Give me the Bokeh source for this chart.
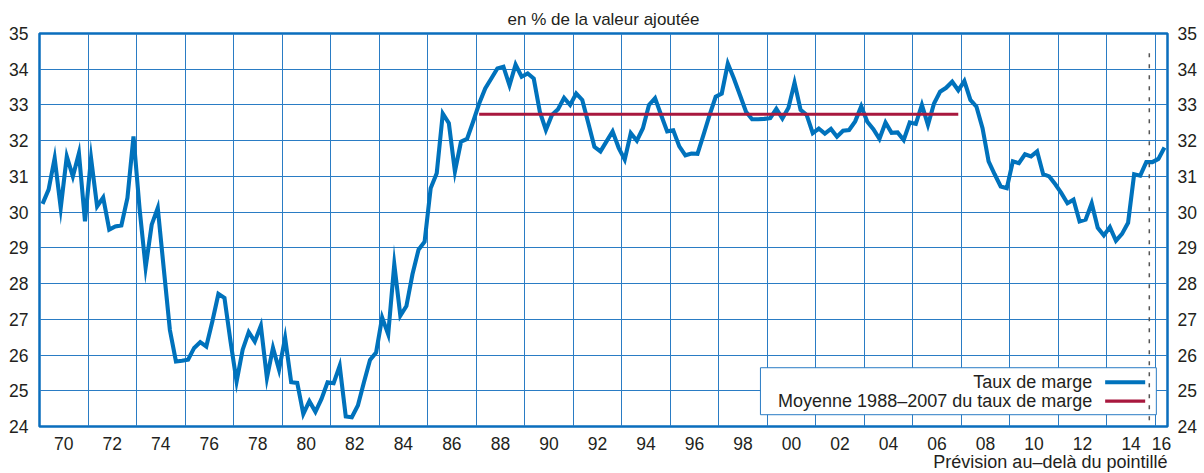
from bokeh.plotting import figure
from bokeh.models import FixedTicker, LinearAxis, Range1d, Label, BoxAnnotation, Title
from bokeh.embed import file_html
from bokeh.resources import INLINE

# ---------------- data ----------------
first_year = 1970            # series starts in 1970Q1 (quarterly)
taux_de_marge = [
    30.23, 30.63, 31.51, 30.12,   # 1970
    31.56, 31.00, 31.65, 29.74,   # 1971
    31.51, 30.16, 30.41, 29.51,   # 1972
    29.60, 29.63, 30.40, 32.12,   # 1973
    30.10, 28.45, 29.65, 30.12,   # 1974
    28.40, 26.70, 25.82, 25.84,   # 1975
    25.87, 26.20, 26.36, 26.24,   # 1976
    26.94, 27.71, 27.60, 26.38,   # 1977
    25.26, 26.15, 26.64, 26.38,   # 1978
    26.82, 25.36, 26.20, 25.59,   # 1979
    26.48, 25.24, 25.22, 24.35,   # 1980
    24.71, 24.41, 24.77, 25.24,   # 1981
    25.21, 25.70, 24.28, 24.26,   # 1982
    24.59, 25.24, 25.86, 26.07,   # 1983
    27.05, 26.58, 28.54, 27.10,   # 1984
    27.37, 28.26, 28.95, 29.17,   # 1985
    30.67, 31.09, 32.76, 32.49,   # 1986
    31.14, 31.97, 32.05, 32.53,   # 1987
    33.04, 33.46, 33.74, 34.02,   # 1988
    34.07, 33.55, 34.13, 33.79,   # 1989
    33.88, 33.74, 32.81, 32.30,   # 1990
    32.72, 32.88, 33.20, 33.00,   # 1991
    33.32, 33.14, 32.49, 31.83,   # 1992
    31.70, 31.98, 32.26, 31.80,   # 1993
    31.47, 32.21, 32.00, 32.35,   # 1994
    33.00, 33.19, 32.72, 32.26,   # 1995
    32.29, 31.84, 31.59, 31.64,   # 1996
    31.63, 32.17, 32.72, 33.23,   # 1997
    33.32, 34.16, 33.74, 33.28,   # 1998
    32.81, 32.60, 32.60, 32.61,   # 1999
    32.63, 32.89, 32.62, 32.92,   # 2000
    33.62, 32.86, 32.72, 32.21,   # 2001
    32.34, 32.20, 32.33, 32.11,   # 2002
    32.28, 32.30, 32.54, 32.96,   # 2003
    32.53, 32.32, 32.05, 32.51,   # 2004
    32.22, 32.23, 32.02, 32.51,   # 2005
    32.47, 33.00, 32.44, 33.04,   # 2006
    33.37, 33.48, 33.65, 33.41,   # 2007
    33.67, 33.14, 32.95, 32.35,   # 2008
    31.42, 31.06, 30.72, 30.67,   # 2009
    31.42, 31.37, 31.62, 31.56,   # 2010
    31.70, 31.06, 31.00, 30.78,   # 2011
    30.53, 30.25, 30.35, 29.74,   # 2012
    29.79, 30.25, 29.56, 29.35,   # 2013
    29.58, 29.20, 29.39, 29.70,   # 2014
    31.06, 31.02, 31.40, 31.40,   # 2015
    31.49, 31.81,                 # 2016
]
mean_period = (1988, 2007)
mean_1988_2007 = 32.74
last_observed = (2015, 3)     # forecast after 2015Q3 (dotted line)

x_year_labels = ["70", "72", "74", "76", "78", "80", "82", "84", "86", "88",
                 "90", "92", "94", "96", "98", "00", "02", "04", "06", "08",
                 "10", "12", "14", "16"]
y_tick_values = [24, 25, 26, 27, 28, 29, 30, 31, 32, 33, 34, 35]

series_name = "Taux de marge"
mean_name = "Moyenne 1988–2007 du taux de marge"
subtitle = "en % de la valeur ajoutée"
note = "Prévision au–delà du pointillé"

# ---------------- derived ----------------
quarters = [first_year + (i + 0.5) / 4 for i in range(len(taux_de_marge))]
x_start = first_year
x_end = first_year + len(taux_de_marge) / 4
mean_x = [q for q in quarters if mean_period[0] <= int(q) <= mean_period[1]]
mean_y = [mean_1988_2007] * len(mean_x)
forecast_x = last_observed[0] + last_observed[1] / 4


def label_year(s):
    n = int(s)
    return 1900 + n if n >= 50 else 2000 + n


label_years = [label_year(s) for s in x_year_labels]
label_pos = [(y + min(y + 2, x_end)) / 2 for y in label_years]
grid_years = [y for y in range(x_start, int(x_end) + 1, 2)]

# ---------------- style ----------------
FONT = "Liberation Sans"
TXT = "#231f20"
BLUE = "#0072bc"
GRID = "#2a7cc4"
RED = "#a8183e"

p = figure(width=1204, height=473,
           x_range=Range1d(x_start, x_end), y_range=Range1d(24, 35),
           output_backend="svg", toolbar_location=None,
           min_border_left=39, min_border_right=37,
           min_border_top=33, min_border_bottom=47,
           background_fill_color="white", border_fill_color="white")

p.outline_line_color = "#0a6ebd"
p.outline_line_width = 2.5
p.outline_line_alpha = 1.0

# subtitle (above) and note (below, right-aligned)
p.title = Title(text=subtitle, align="center", standoff=9,
                text_font=FONT, text_font_size="17px", text_font_style="normal",
                text_color=TXT)
p.add_layout(Title(text=note, align="right", standoff=-5,
                   text_font=FONT, text_font_size="18px", text_font_style="normal",
                   text_color=TXT), "below")

# grids
p.xgrid.ticker = FixedTicker(ticks=grid_years)
p.ygrid.ticker = FixedTicker(ticks=y_tick_values)
for g in (p.xgrid, p.ygrid):
    g.grid_line_color = GRID
    g.grid_line_width = 1
    g.grid_line_alpha = 1.0

# axes
p.add_layout(LinearAxis(), "right")
p.xaxis.ticker = FixedTicker(ticks=label_pos)
p.xaxis.major_label_overrides = {pos: s for pos, s in zip(label_pos, x_year_labels)}
p.xaxis.major_label_standoff = 10
for ax in p.yaxis:
    ax.ticker = FixedTicker(ticks=y_tick_values)
p.yaxis[0].major_label_standoff = 11
p.yaxis[1].major_label_standoff = 10
for ax in list(p.xaxis) + list(p.yaxis):
    ax.axis_line_color = None
    ax.major_tick_line_color = None
    ax.minor_tick_line_color = None
    ax.major_tick_out = 0
    ax.major_tick_in = 0
    ax.major_label_text_font = FONT
    ax.major_label_text_font_size = "17.5px"
    ax.major_label_text_color = TXT

# legend frame (under the dotted forecast line)
leg_left, leg_right, leg_bottom, leg_top = 1999.72, 2016.04, 24.33, 25.645
p.add_layout(BoxAnnotation(left=leg_left, right=leg_right, bottom=leg_bottom, top=leg_top,
                           fill_color="white", fill_alpha=1.0,
                           line_color=GRID, line_width=1, line_alpha=1.0,
                           level="underlay"))

# data
p.line(quarters, taux_de_marge, line_color=BLUE, line_width=4.1, line_join="miter")
p.line(mean_x, mean_y, line_color=RED, line_width=3.2)
p.line([forecast_x, forecast_x], [34.45, 23.5], line_color="#555555",
       line_width=1.5, line_dash="4 7")

# legend entries (label right-aligned, swatch on the right)
sw_x0, sw_x1 = 2013.93, 2015.58
txt_right = 2013.40
rows = [(series_name, BLUE, 4.1, 25.24), (mean_name, RED, 3.2, 24.71)]
for name, col, lw, yy in rows:
    p.line([sw_x0, sw_x1], [yy, yy], line_color=col, line_width=lw)
    p.add_layout(Label(x=txt_right, y=yy, text=name, text_align="right",
                       text_baseline="middle", text_font=FONT,
                       text_font_size="18px", text_color=TXT))

open("out.html", "w").write(file_html(p, INLINE))
